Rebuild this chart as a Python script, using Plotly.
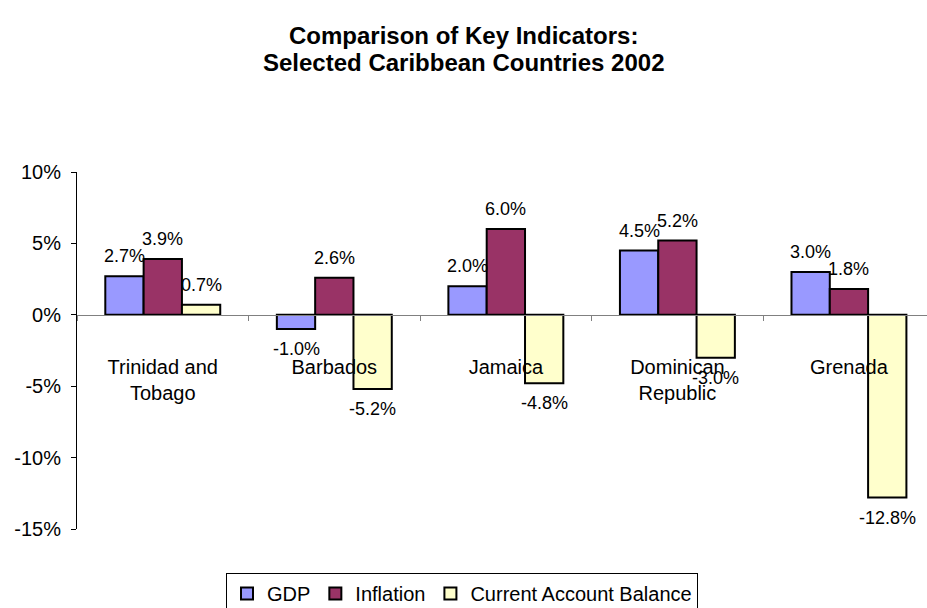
import plotly.graph_objects as go

# Key indicators, 2002 (percent)
countries = ["Trinidad and<br>Tobago", "Barbados", "Jamaica", "Dominican<br>Republic", "Grenada"]
gdp = [2.7, -1.0, 2.0, 4.5, 3.0]
inflation = [3.9, 2.6, 6.0, 5.2, 1.8]
current_account = [0.7, -5.2, -4.8, -3.0, -12.8]

series_names = ["GDP", "Inflation", "Current Account Balance"]
series_values = [gdp, inflation, current_account]
series_colors = ["#9999FF", "#993366", "#FFFFCC"]

y_ticks = [-15, -10, -5, 0, 5, 10]
y_ticktext = [f"{v}%" for v in y_ticks]

title_lines = ["Comparison of Key Indicators:", "Selected Caribbean Countries 2002"]

FONT = "Liberation Sans, Arial, sans-serif"
BAR_GAP = 0.33
n_series = len(series_values)
bar_w = (1 - BAR_GAP) / n_series

W, H = 927, 608
M_L, M_R, M_T, M_B = 77, 0, 172, 79
plot_h = H - M_T - M_B
plot_w = W - M_L - M_R

fig = go.Figure()
annotations = []
for j, (name, vals, col) in enumerate(zip(series_names, series_values, series_colors)):
    fig.add_trace(go.Bar(
        name=name, x=countries, y=vals,
        marker=dict(color=col, line=dict(color="black", width=2)),
    ))
    # value labels placed just beyond the end of each bar
    for i, v in enumerate(vals):
        annotations.append(dict(
            x=i + (j - (n_series - 1) / 2) * bar_w, y=v, xref="x", yref="y",
            text=f"{v:.1f}%", showarrow=False,
            yanchor="bottom" if v >= 0 else "top",
            yshift=8 if v >= 0 else -8,
            font=dict(family=FONT, size=18, color="black"),
        ))

# two-line bold heading, centred on the page
for k, (line, y_px) in enumerate(zip(title_lines, [35, 62])):
    annotations.append(dict(
        text=f"<b>{line}</b>", showarrow=False,
        xref="paper", yref="paper",
        x=(W / 2 - M_L) / plot_w, xanchor="center",
        y=(H - M_B - y_px) / plot_h, yanchor="middle",
        font=dict(family=FONT, size=24, color="black"),
    ))

y_min, y_max = -15, 10
zero_pos = (0 - y_min) / (y_max - y_min)

fig.update_layout(
    width=W, height=H,
    margin=dict(l=M_L, r=M_R, t=M_T, b=M_B, autoexpand=False),
    paper_bgcolor="white", plot_bgcolor="white",
    barmode="group", bargap=BAR_GAP, bargroupgap=0,
    font=dict(family=FONT, size=20, color="black"),
    xaxis=dict(
        type="category", range=[-0.5, 4.455],
        anchor="free", position=zero_pos,
        showline=True, linecolor="#808080", linewidth=1,
        ticks="outside", tickson="boundaries", ticklen=5, tickcolor="#808080",
        ticklabelstandoff=34,
        tickfont=dict(family=FONT, size=20, color="black"),
        showgrid=False, zeroline=False,
    ),
    yaxis=dict(
        range=[y_min, y_max], tickvals=y_ticks, ticktext=y_ticktext,
        showline=True, linecolor="black", linewidth=1,
        ticks="outside", ticklen=5, tickcolor="black",
        ticklabelstandoff=6,
        tickfont=dict(family=FONT, size=20, color="black"),
        showgrid=False, zeroline=False,
    ),
    legend=dict(
        orientation="h", x=(462 - M_L) / plot_w, xanchor="center",
        y=-(573 - (H - M_B)) / plot_h, yanchor="top",
        bordercolor="black", borderwidth=1, bgcolor="white",
        font=dict(family=FONT, size=20, color="black"),
        itemwidth=30, tracegroupgap=0,
    ),
    annotations=annotations,
    showlegend=True,
)

fig.write_html("out.html")
